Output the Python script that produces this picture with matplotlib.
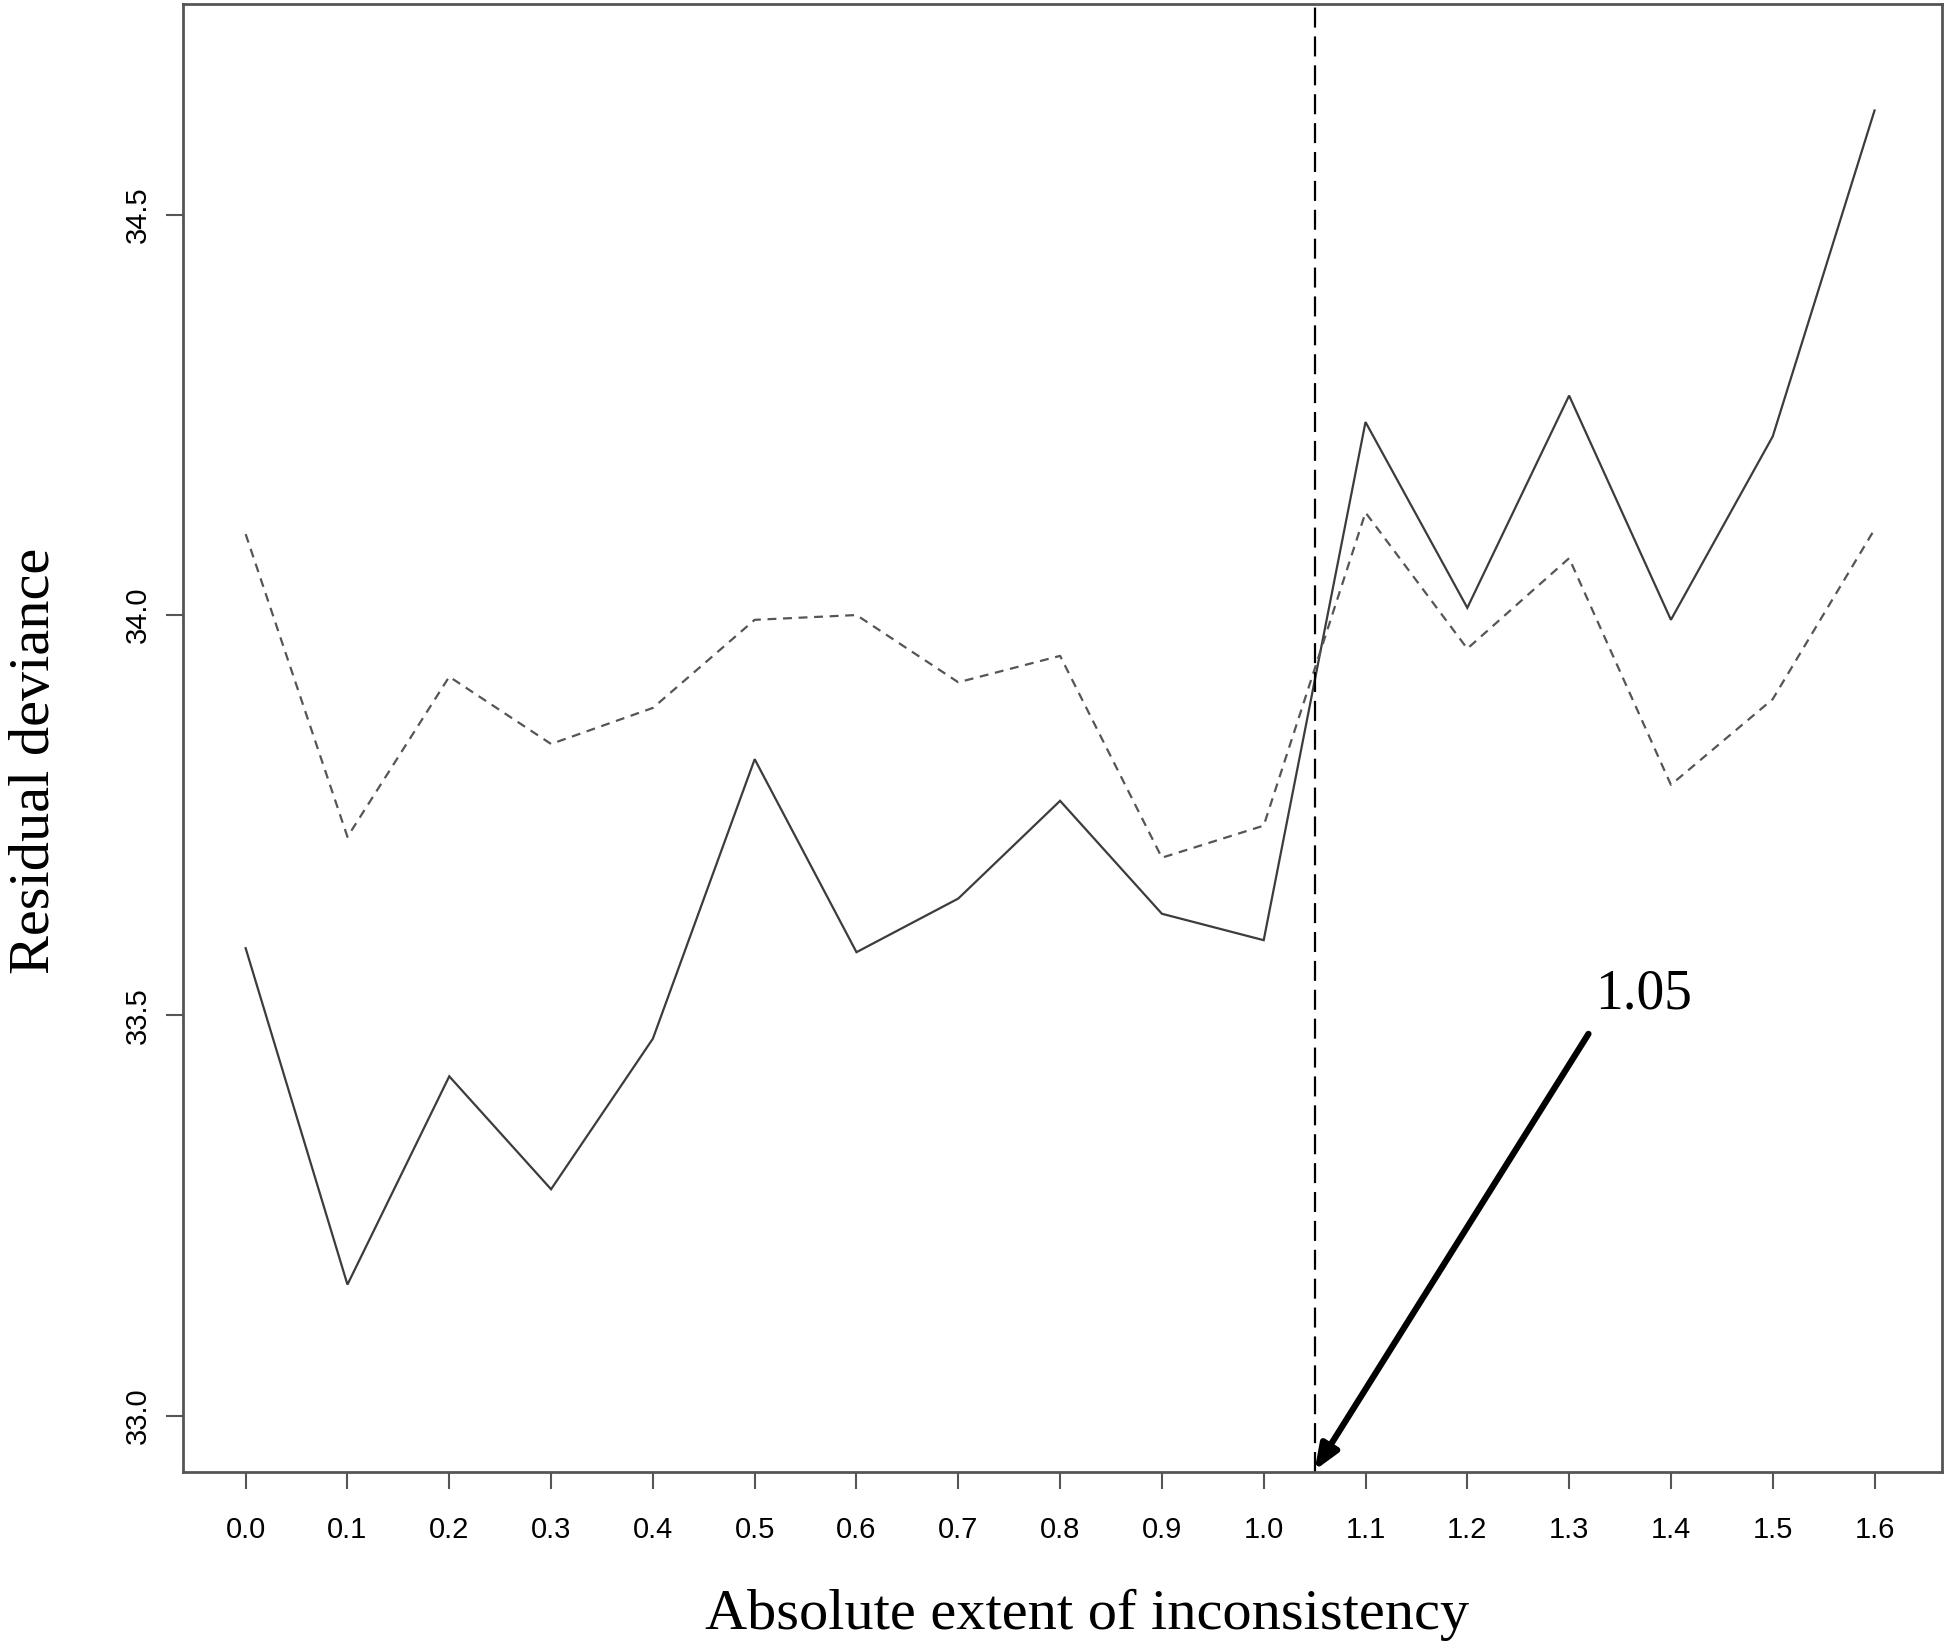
import numpy as np
import matplotlib.pyplot as plt

extent = [0.0, 0.1, 0.2, 0.3, 0.4, 0.5, 0.6, 0.7, 0.8,
          0.9, 1.0, 1.1, 1.2, 1.3, 1.4, 1.5, 1.6]
dev_solid = [33.584, 33.164, 33.424, 33.283, 33.471, 33.820, 33.579, 33.646, 33.768,
             33.627, 33.594, 34.241, 34.009, 34.274, 33.994, 34.223, 34.630]
dev_dashed = [34.101, 33.723, 33.923, 33.839, 33.884, 33.994, 34.000, 33.916, 33.949,
              33.697, 33.737, 34.128, 33.958, 34.071, 33.788, 33.895, 34.107]
cutoff = 1.05
cutoff_label = "1.05"
xticks = [0.0, 0.1, 0.2, 0.3, 0.4, 0.5, 0.6, 0.7, 0.8, 0.9, 1.0, 1.1, 1.2, 1.3, 1.4, 1.5, 1.6]
yticks = [33.0, 33.5, 34.0, 34.5]

serif = ['Liberation Serif', 'DejaVu Serif']
sans = ['Liberation Sans', 'DejaVu Sans']

fig = plt.figure(figsize=(19.46, 16.5), dpi=100)
ax = fig.add_axes([0.0938, 0.1079, 0.904, 0.8897])

ax.plot(extent, dev_solid, color='#3c3c3c', lw=1.6, solid_joinstyle='miter')
ax.plot(extent, dev_dashed, color='#555555', lw=1.6, linestyle=(0, (4, 3)))
ax.axvline(cutoff, color='black', lw=1.6, linestyle=(0, (9, 4)))

ax.set_xlim(-0.062, 1.666)
ax.set_ylim(32.93, 34.763)

ax.annotate('', xy=(cutoff, 32.932), xytext=(1.319, 33.477),
            arrowprops=dict(arrowstyle='-|>,head_length=1.5,head_width=0.6',
                            color='black', lw=4.5, shrinkA=0, shrinkB=0))
ax.text(1.373, 33.526, cutoff_label, fontsize=40, family=serif,
        ha='center', va='center')

ax.set_xticks(xticks)
ax.set_xticklabels([f"{v:.1f}" for v in xticks], family=sans, fontsize=21)
ax.set_yticks(yticks)
ax.set_yticklabels([f"{v:.1f}" for v in yticks], family=sans, fontsize=21,
                   rotation=90, va='center')
ax.tick_params(length=12, width=1.5, color='#555555', pad=20)
ax.tick_params(axis='y', pad=10)
for s in ax.spines.values():
    s.set_color('#555555')
    s.set_linewidth(2)

fig.text(0.5586, 0.021, 'Absolute extent of inconsistency', fontsize=42,
         family=serif, ha='center', va='center')
fig.text(0.018, 0.539, 'Residual deviance', fontsize=42, family=serif,
         rotation=90, ha='center', va='center')

plt.savefig('out.png', dpi=100)
